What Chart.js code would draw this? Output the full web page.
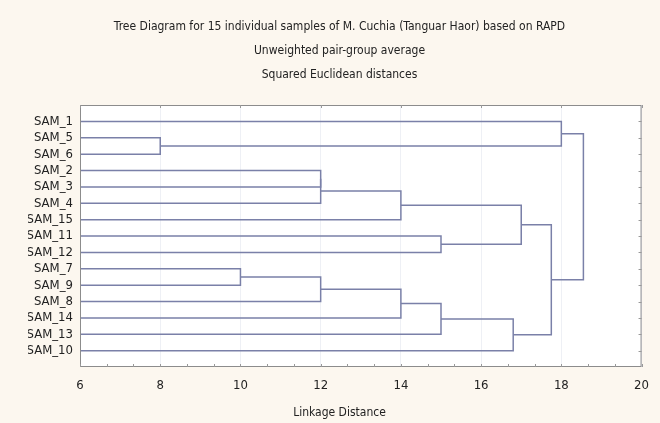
<!DOCTYPE html>
<html>
<head>
<meta charset="utf-8">
<script src="https://cdn.jsdelivr.net/npm/chart.js@4"></script>
<style>
  body { margin: 0; background: #fcf7ef; }
  #wrap { position: relative; width: 660px; height: 423px; }
</style>
</head>
<body>
<div id="wrap"><canvas id="tree"></canvas></div>
<script>
// Leaves, top to bottom
var leafLabels = ['SAM_1', 'SAM_5', 'SAM_6', 'SAM_2', 'SAM_3', 'SAM_4', 'SAM_15', 'SAM_11',
                  'SAM_12', 'SAM_7', 'SAM_9', 'SAM_8', 'SAM_14', 'SAM_13', 'SAM_10']
// Joins (scipy style: node 15 is the first join, 16 the second...)
var joinLeft  = [1, 0, 3, 17, 18, 7, 19, 9, 22, 23, 24, 25, 21, 16]
var joinRight = [2, 15, 4, 5, 6, 8, 20, 10, 11, 12, 13, 14, 26, 27]
var joinDistance = [8, 18, 12, 12, 14, 15, 17, 10, 12, 14, 15, 16.8, 17.75, 18.55]
// Linkage distance axis
var xTicks = [6, 8, 10, 12, 14, 16, 18, 20]

var titleLines = [
    'Tree Diagram for 15 individual samples of M. Cuchia (Tanguar Haor) based on RAPD',
    'Unweighted pair-group average',
    'Squared Euclidean distances'
]

var font = "'Liberation Sans Narrow', 'DejaVu Sans Condensed', Arial, sans-serif"
var lineColor = '#7a80a8'

// height (distance) and position of every node
var nodeX = []
var nodeY = []
for (let i = 0; i < leafLabels.length; i++) {
    nodeX.push(0)
    nodeY.push(i)
}
var datasets = []
for (let j = 0; j < joinLeft.length; j++) {
    let a = joinLeft[j], b = joinRight[j], d = joinDistance[j]
    datasets.push({
        data: [
            { x: nodeX[a], y: nodeY[a] },
            { x: d, y: nodeY[a] },
            { x: d, y: nodeY[b] },
            { x: nodeX[b], y: nodeY[b] }
        ],
        showLine: true,
        borderColor: lineColor,
        borderWidth: 1.5,
        pointRadius: 0,
        tension: 0
    })
    nodeX.push(d)
    nodeY.push((nodeY[a] + nodeY[b]) / 2)
}

// White plot area, grey frame and the little inner ticks
var framePlugin = {
    id: 'frame',
    beforeDraw(chart) {
        let c = chart.ctx, a = chart.chartArea
        c.save()
        c.fillStyle = '#ffffff'
        c.fillRect(a.left, a.top, a.right - a.left, a.bottom - a.top)
        c.restore()
    },
    afterDraw(chart) {
        let c = chart.ctx, a = chart.chartArea
        let xs = chart.scales.x, ys = chart.scales.y
        c.save()
        c.strokeStyle = '#8c8c8c'
        c.lineWidth = 1
        c.strokeRect(a.left + 0.5, a.top + 0.5, a.right - a.left - 1, a.bottom - a.top - 1)
        c.strokeStyle = '#999999'
        c.beginPath()
        // right side: one tick per leaf
        for (let i = 0; i < leafLabels.length; i++) {
            let py = Math.round(ys.getPixelForValue(i)) + 0.5
            c.moveTo(a.right - 3, py)
            c.lineTo(a.right, py)
        }
        // bottom: minor ticks every 2/3
        for (let v = 6; v <= 20.01; v += 2 / 3) {
            let px = Math.round(xs.getPixelForValue(v)) + 0.5
            c.moveTo(px, a.bottom - 3)
            c.lineTo(px, a.bottom)
        }
        // top: major ticks only
        xTicks.forEach(v => {
            let px = Math.round(xs.getPixelForValue(v)) + 0.5
            c.moveTo(px, a.top)
            c.lineTo(px, a.top + 3)
        })
        c.stroke()
        c.restore()
    }
}

new Chart(document.getElementById('tree'), {
    type: 'scatter',
    data: { datasets: datasets },
    options: {
        responsive: true,
        maintainAspectRatio: false,
        animation: false,
        layout: { padding: { left: 28, right: 9, top: 0, bottom: 0 } },
        plugins: {
            legend: { display: false },
            tooltip: { enabled: false },
            title: {
                display: true,
                text: titleLines,
                color: '#222222',
                font: { family: font, size: 12, weight: 'normal', lineHeight: 24 / 12 },
                padding: { top: 15, bottom: 18 }
            },
            // axis title as a bottom subtitle so it centres like the original
            subtitle: {
                display: true,
                position: 'bottom',
                text: 'Linkage Distance',
                color: '#222222',
                font: { family: font, size: 12, weight: 'normal', lineHeight: 1.2 },
                padding: { top: 0, bottom: 3 }
            }
        },
        scales: {
            x: {
                type: 'linear',
                min: 6,
                max: 20,
                afterFit: (s) => { s.height = 38.6 },
                afterBuildTicks: (s) => { s.ticks = xTicks.map(v => ({ value: v })) },
                grid: { color: '#eef0f5', drawTicks: false },
                border: { display: false },
                ticks: { color: '#222222', padding: 11, font: { family: font, size: 13 } }
            },
            y: {
                type: 'linear',
                min: -1,
                max: 15,
                reverse: true,
                afterFit: (s) => { s.width = 52 },
                grid: { display: false, drawTicks: false },
                border: { display: false },
                ticks: {
                    stepSize: 1,
                    autoSkip: false,
                    padding: 7,
                    color: '#222222',
                    font: { family: font, size: 13 },
                    callback: (v) => leafLabels[v] || ''
                }
            }
        }
    },
    plugins: [framePlugin]
})
</script>
</body>
</html>
